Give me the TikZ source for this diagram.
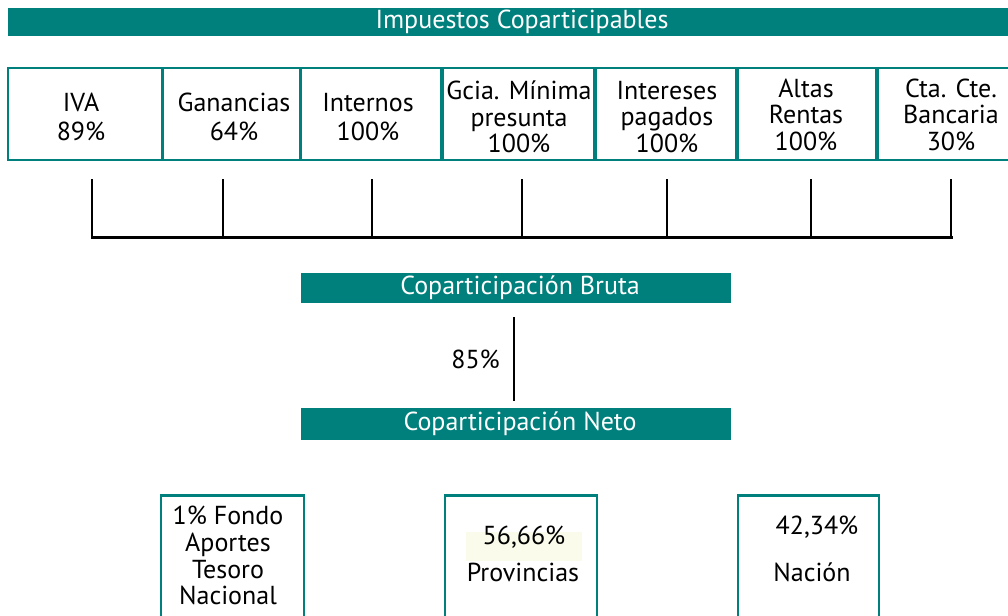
\documentclass[tikz,border=0pt]{standalone}
\usepackage{fontspec}
\setmainfont{PT Sans}
\definecolor{teal1}{RGB}{0,128,124}
\definecolor{hl}{RGB}{250,251,234}
\begin{document}
\begin{tikzpicture}[x=1pt,y=-1pt,
  banner/.style={fill=teal1,text=white,inner sep=0pt,font=\fontsize{26}{30}\selectfont},
  tbox/.style={draw=teal1,line width=2.6pt,inner sep=0pt},
  bbox/.style={draw=teal1,line width=2.6pt,inner sep=0pt},
  txt/.style={inner sep=0pt,align=center,font=\fontsize{26}{27}\selectfont},
  conn/.style={line width=2.4pt,black}]
\useasboundingbox (0,0) rectangle (1008,615);
\clip (0,0) rectangle (1008,615);
% banner
\node[banner,minimum width=1028pt,minimum height=28pt] (imp) at (522,22) {Impuestos Coparticipables};
% top boxes
\node[tbox,minimum width=154pt,minimum height=92pt] (b1) at (85,114) {};
\node[tbox,minimum width=137pt,minimum height=92pt] (b2) at (231.5,114) {};
\node[tbox,minimum width=140pt,minimum height=92pt] (b3) at (371,114) {};
\node[tbox,minimum width=151pt,minimum height=92pt] (b4) at (518.5,114) {};
\node[tbox,minimum width=140pt,minimum height=92pt] (b5) at (666,114) {};
\node[tbox,minimum width=138pt,minimum height=92pt] (b6) at (807,114) {};
\node[tbox,minimum width=146pt,minimum height=92pt] (b7) at (951,114) {};
\node[txt,font=\fontsize{26}{29}\selectfont] (t1) at (81,117) {IVA\\89\%};
\node[txt,font=\fontsize{26}{29}\selectfont] (t2) at (234,117) {Ganancias\\64\%};
\node[txt,font=\fontsize{26}{29}\selectfont] (t3) at (368,117) {Internos\\100\%};
\node[txt,font=\fontsize{26}{26.5}\selectfont] (t4) at (519,117) {Gcia. Mínima\\presunta\\100\%};
\node[txt,font=\fontsize{26}{26.5}\selectfont] (t5) at (667,117) {Intereses\\pagados\\100\%};
\node[txt,font=\fontsize{26}{26.5}\selectfont] (t6) at (806,114.5) {Altas\\Rentas\\100\%};
\node[txt,font=\fontsize{26}{26.5}\selectfont] (t7) at (951,114.5) {Cta. Cte.\\Bancaria\\30\%};
% connectors
\foreach \i/\x in {1/92,2/223,3/372,4/522,5/667,6/811,7/951}{
  \coordinate (u\i) at (\x,179);
  \coordinate (d\i) at (\x,236);
  \draw[conn] (u\i) -- (d\i);
}
\coordinate (hl0) at (91,237.5);
\coordinate (hl1) at (953,237.5);
\draw[line width=3.2pt] (hl0) -- (hl1);
% coparticipacion
\node[banner,minimum width=430pt,minimum height=30pt] (bruta) at (516,288) {\hspace{8pt}Coparticipación Bruta};
\node[banner,minimum width=430pt,minimum height=32pt] (neto) at (516,424) {\hspace{8pt}Coparticipación Neto};
\coordinate (p0) at (514,317);
\coordinate (p1) at (514,401);
\draw[conn] (p0) -- node[txt,left=13pt] (pct) {85\%} (p1);
% bottom boxes
\node[bbox,minimum width=143pt,minimum height=140pt,anchor=north] (fondo) at (232.5,494) {};
\node[bbox,minimum width=152pt,minimum height=140pt,anchor=north] (prov) at (521,494) {};
\node[bbox,minimum width=141pt,minimum height=140pt,anchor=north] (nac) at (808.5,494) {};
\node[txt,anchor=north,font=\fontsize{26}{26.7}\selectfont] (tf) at (228,506) {1\% Fondo\\Aportes\\Tesoro\\Nacional};
\fill[hl] (466,532) rectangle (582,561);
\node[txt] (tp1) at (524,537) {56,66\%};
\node[txt] (tp2) at (523,572) {Provincias};
\node[txt] (tn1) at (817,527) {42,34\%};
\node[txt] (tn2) at (812,572) {Nación};
\end{tikzpicture}
\end{document}
